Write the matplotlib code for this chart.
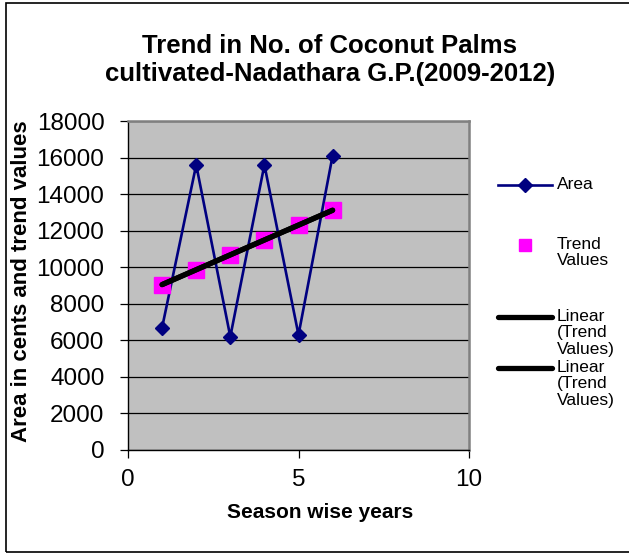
import numpy as np
import matplotlib.pyplot as plt
from matplotlib.lines import Line2D
from matplotlib.patches import Rectangle

# season-wise area (cents) and the fitted trend values
years = [1, 2, 3, 4, 5, 6]
area = [6700, 15600, 6200, 15600, 6300, 16100]
trend_values = [9050, 9860, 10680, 11490, 12300, 13120]

title = "Trend in No. of Coconut Palms\ncultivated-Nadathara G.P.(2009-2012)"
legend_labels = ["Area", "Trend\nValues", "Linear\n(Trend\nValues)", "Linear\n(Trend\nValues)"]

plt.rcParams["font.family"] = ["Liberation Sans", "DejaVu Sans"]

W, H = 629, 554
fig = plt.figure(figsize=(W / 100, H / 100), dpi=100)


def px(x, y):
    return x / W, 1 - y / H


l, t = px(128, 121)
r, b = px(469, 450)
ax = fig.add_axes([l, b, r - l, t - b])
ax.set_facecolor("#c0c0c0")

ax.set_xlim(0, 10)
ax.set_ylim(0, 18000)
ax.set_xticks([0, 5, 10])
ax.set_yticks(np.arange(0, 18001, 2000))
ax.yaxis.grid(True, color="black", linewidth=0.9)
ax.set_axisbelow(True)
ax.tick_params(direction="out", length=6, width=0.9, labelsize=17.5, colors="black")
ax.tick_params(axis="y", pad=11)
ax.tick_params(axis="x", pad=8)

for side in ("top", "right"):
    ax.spines[side].set_color("#808080")
    ax.spines[side].set_linewidth(1.8)
for side in ("left", "bottom"):
    ax.spines[side].set_color("black")
    ax.spines[side].set_linewidth(1.0)

ax.plot(years, area, color="#000080", linewidth=1.9, marker="D", markersize=7.5, zorder=3)
ax.plot(years, trend_values, linestyle="none", marker="s", markersize=11,
        color="#ff00ff", zorder=4)

# linear fit through the trend values (appears twice in the legend)
k, c = np.polyfit(years, trend_values, 1)
fit_x = np.array([years[0], years[-1]])
for _ in range(2):
    ax.plot(fit_x, k * fit_x + c, color="black", linewidth=3.8,
            solid_capstyle="round", zorder=5)

ax.set_xlabel("Season wise years", fontsize=15, fontweight="bold")
ax.xaxis.set_label_coords((320 - 128) / 341, (450 - 512) / 329)
ax.xaxis.label.set_va("center")
ax.set_ylabel("Area in cents and trend values", fontsize=16, fontweight="bold")
ax.yaxis.set_label_coords((22 - 128) / 341, (450 - 281) / 329)
ax.yaxis.label.set_va("center")

fig.text(*px(330, 60), title, ha="center", va="center", fontsize=18.5,
         fontweight="bold", linespacing=1.25)

# legend to the right of the plot area
rows = [185, 245, 317, 368]
for label, y in zip(legend_labels, rows):
    fig.text(*px(557, y - 8), label, ha="left", va="top", fontsize=12.5,
             linespacing=1.12)

x0, y0 = px(498, rows[0])
x1, _ = px(552, rows[0])
fig.add_artist(Line2D([x0, x1], [y0, y0], color="#000080", linewidth=1.9))
fig.add_artist(Line2D([(x0 + x1) / 2], [y0], color="#000080", marker="D", markersize=7.5))
xs, ys = px(525, rows[1])
fig.add_artist(Line2D([xs], [ys], color="#ff00ff", marker="s", markersize=9, linestyle="none"))
for y in rows[2:]:
    a, yy = px(498, y)
    e, _ = px(552, y)
    fig.add_artist(Line2D([a, e], [yy, yy], color="black", linewidth=3.8, solid_capstyle="round"))

# outer chart frame (runs off the right edge)
fx0, fy0 = px(6, 552)
fx1, fy1 = px(640, 3)
fig.add_artist(Rectangle((fx0, fy0), fx1 - fx0, fy1 - fy0, fill=False,
                         edgecolor="black", linewidth=1.2, transform=fig.transFigure))

fig.savefig("out.png", dpi=100)
